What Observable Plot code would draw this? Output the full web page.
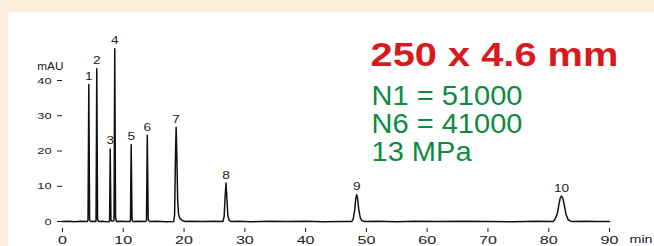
<!DOCTYPE html>
<html><head><meta charset="utf-8">
<script src="https://cdn.jsdelivr.net/npm/d3@7"></script>
<script src="https://cdn.jsdelivr.net/npm/@observablehq/plot@0.6"></script>
<style>
html,body{margin:0;padding:0;background:#fdeedb;width:654px;height:246px;overflow:hidden}
#panel{position:absolute;left:8px;top:12px;width:646px;height:234px;background:#fff}
</style></head><body><div id="panel"></div>
<script>
// Chromatogram trace (time in min, signal in mAU)
const traceTime = [0,1,2,3,4.1,
  4.2,4.33,4.46,4.6, 5.0,5.5,
  5.52,5.64,5.77,5.95, 6.5,7.2,7.7,
  7.75,7.85,7.97,8.1,8.45,
  8.48,8.6,8.73,8.9, 9.5,10.5,11.15,
  11.18,11.3,11.44,11.6, 12.5,13.7,
  13.82,13.95,14.1,14.3, 15.5,17,18.3,
  18.45,18.6,18.7,18.82,18.95,19.1,19.35,19.7,20.2,
  21,23,25,26.4,
  26.6,26.75,26.9,27.05,27.2,27.4,27.7,
  29,31,34,37,40,43,46,47.6,
  47.85,48.1,48.25,48.4,48.55,48.75,49.0,49.3,49.7,
  52,55,58,62,66,70,74,78,80.7,
  81.0,81.4,81.7,81.9,82.1,82.3,82.55,82.85,83.2,83.6,84,
  86,88,90];
const traceMAU = [0,0.1,-0.1,0.1,0,
  0.5,38.9,0.5,0, 0.1,0,
  0.5,43.3,0.6,0, 0.1,-0.1,0,
  0.4,20.6,0.4,0.1,0.2,
  1,49.0,1,0, 0.1,0,0,
  0.4,21.8,0.5,0, 0.1,0,
  0.5,24.5,0.6,0, 0.1,-0.1,0,
  2,20,26.7,18,6,2,0.8,0.3,0,
  0.1,0,0.1,0,
  1.5,7,10.9,6.5,1.8,0.4,0,
  0.1,-0.1,0.1,0,0.1,-0.1,0,0,
  0.8,3.5,6.5,7.6,6.6,3.4,1.0,0.2,0,
  0.1,-0.1,0.1,0,0.1,0,-0.1,0.1,0,
  0.5,2.2,5,6.7,7.2,6.7,4.8,2.0,0.5,0.1,0,
  0.1,0,0];

// Peak apexes and their labels
const peakLabel = ["1","2","3","4","5","6","7","8","9","10"];
const peakTime = [4.33,5.64,7.85,8.6,11.3,13.95,18.7,26.9,48.4,82.1];
const peakHeight = [38.9,43.3,20.6,49.0,21.8,24.5,26.7,10.9,7.6,7.2];

const xTicks = [0,10,20,30,40,50,60,70,80,90];
const yTicks = [0,10,20,30,40];
const yUnit = "mAU";
const xUnit = "min";
const titleText = "250 x 4.6 mm";
const conditionLines = ["N1 = 51000","N6 = 41000","13 MPa"];

const trace = traceTime.map((t, i) => ({t, v: traceMAU[i]}));
const peaks = peakTime.map((t, i) => ({t, v: peakHeight[i], label: peakLabel[i]}));

const svg = Plot.plot({
  width: 646,
  height: 234,
  marginLeft: 54,
  marginRight: 45,
  marginTop: 32.75,
  marginBottom: 17.95,
  style: {fontFamily: "'Liberation Sans', Arial, sans-serif", background: "transparent", color: "#1a1a1a", overflow: "visible"},
  x: {domain: [0, 90]},
  y: {domain: [-2, 50]},
  marks: [
    Plot.axisX({ticks: xTicks, tickSize: 4, tickPadding: 3, fontSize: 11.5, label: null, tickFormat: d => String(d)}),
    Plot.axisY({ticks: yTicks, tickSize: 5, tickPadding: 6, fontSize: 9.5, label: null, tickFormat: d => String(d)}),
    Plot.line(trace, {x: "t", y: "v", stroke: "#111", strokeWidth: 1.5, strokeLinejoin: "round", curve: "linear"}),
    Plot.text(peaks, {x: "t", y: "v", text: "label", lineAnchor: "bottom", dy: -4.5, fontSize: 10.5, fill: "#222"}),
    Plot.text([yUnit], {frameAnchor: "top-left", textAnchor: "end", lineAnchor: "middle", dx: 1, dy: 22, fontSize: 10, fill: "#222"}),
    Plot.text([xUnit], {frameAnchor: "bottom-right", textAnchor: "start", lineAnchor: "middle", dx: 20, dy: 10.5, fontSize: 11, fill: "#222"}),
    Plot.text([titleText], {frameAnchor: "top-left", textAnchor: "start", lineAnchor: "bottom", dx: 308, dy: 20.5, fontSize: 34, fontWeight: "bold", fill: "#d71920"}),
    Plot.text([conditionLines.join("\n")], {frameAnchor: "top-left", textAnchor: "start", lineAnchor: "bottom", dx: 309, dy: 115.75, fontSize: 27, lineHeight: 28/27, fill: "#0f8a3f"})
  ]
});

document.getElementById("panel").appendChild(svg);

// the reference's lettering is horizontally stretched
const byGroup = {"x-axis tick label": 1.4, "y-axis tick label": 1.35};
const targetWidth = {};
targetWidth[titleText] = 248;
targetWidth[conditionLines.join("")] = 151;
const byContent = {};
peakLabel.forEach(l => byContent[l] = 1.3);
byContent[yUnit] = 1.18;
byContent[xUnit] = 1.3;
d3.select(svg).selectAll("text").each(function() {
  const g = this.parentNode;
  const label = g && g.getAttribute ? g.getAttribute("aria-label") : null;
  const content = this.textContent;
  let s = null;
  if (label in byGroup) s = byGroup[label];
  else if (content in targetWidth) s = targetWidth[content] / this.getBBox().width;
  else if (content in byContent) s = byContent[content];
  if (!s) return;
  this.setAttribute("transform", (this.getAttribute("transform") || "") + ` scale(${s},1)`);
});
</script>
</body></html>
